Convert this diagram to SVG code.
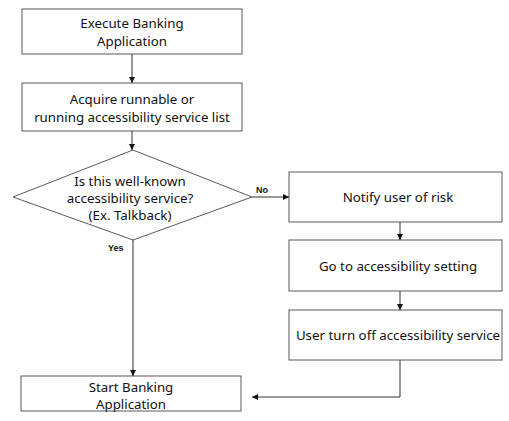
<svg xmlns="http://www.w3.org/2000/svg" width="509" height="421" viewBox="0 0 509 421">
<style>
.box{fill:#fff;stroke:#595959;stroke-width:1}
.t{font-family:"Noto Sans","Noto Sans CJK KR",sans-serif;font-size:13.3px;fill:#111;text-anchor:middle}
.lbl{font-family:"Liberation Sans",sans-serif;font-size:9px;font-weight:bold;fill:#111}
.c{fill:none;stroke:#333;stroke-width:1}
</style>
<defs>
<marker id="ah" viewBox="0 0 6 6" refX="6" refY="3" markerWidth="6" markerHeight="6" orient="auto" markerUnits="userSpaceOnUse">
<path d="M0,0 L6,3 L0,6 Z" fill="#111"/>
</marker>
</defs>
<rect width="509" height="421" fill="#fff"/>
<g id="n1"><rect class="box" x="22" y="9" width="220" height="45"/>
<text class="t" x="132" y="28">Execute Banking</text><text class="t" x="132" y="46">Application</text></g>
<g id="n2"><rect class="box" x="22" y="83" width="220" height="48"/>
<text class="t" x="132" y="104">Acquire runnable or</text><text class="t" x="132" y="122">running accessibility service list</text></g>
<g id="n3"><polygon class="box" points="133,150 252,197 133,240 13,197"/>
<text class="t" x="130" y="186">Is this well-known</text><text class="t" x="130" y="203">accessibility service?</text><text class="t" x="130" y="220">(Ex. Talkback)</text></g>
<g id="n4"><rect class="box" x="289" y="172" width="213" height="50"/>
<text class="t" x="398" y="202">Notify user of risk</text></g>
<g id="n5"><rect class="box" x="289" y="240" width="213" height="51"/>
<text class="t" x="398" y="271">Go to accessibility setting</text></g>
<g id="n6"><rect class="box" x="289" y="310" width="213" height="50"/>
<text class="t" x="398" y="340">User turn off accessibility service</text></g>
<g id="n7"><rect class="box" x="21" y="376" width="220" height="35"/>
<text class="t" x="131" y="392">Start Banking</text><text class="t" x="131" y="409">Application</text></g>
<g id="connectors">
<line class="c" x1="132" y1="54" x2="132" y2="83" marker-end="url(#ah)"/>
<line class="c" x1="132" y1="131" x2="132" y2="150" marker-end="url(#ah)"/>
<line class="c" x1="252" y1="197" x2="289" y2="197" marker-end="url(#ah)"/>
<line class="c" x1="133" y1="240" x2="133" y2="376" marker-end="url(#ah)"/>
<line class="c" x1="400" y1="222" x2="400" y2="240" marker-end="url(#ah)"/>
<line class="c" x1="400" y1="291" x2="400" y2="310" marker-end="url(#ah)"/>
<polyline class="c" points="400,360 400,397 252,397" marker-end="url(#ah)"/>
<text class="lbl" x="256" y="193">No</text>
<text class="lbl" x="108" y="251">Yes</text>
</g>
</svg>
